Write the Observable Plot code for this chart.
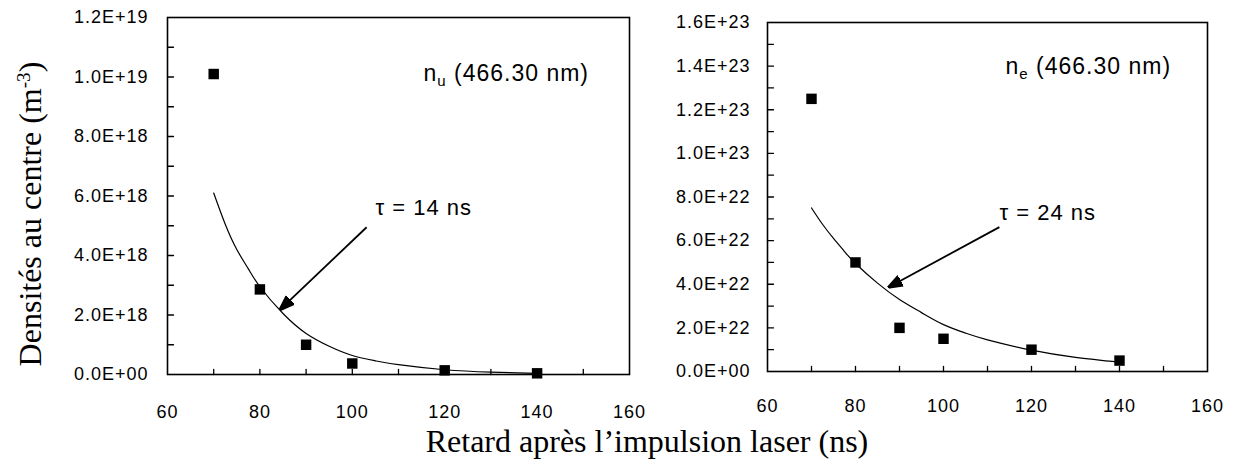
<!DOCTYPE html>
<html>
<head>
<meta charset="utf-8">
<script src="https://cdn.jsdelivr.net/npm/d3@7"></script>
<script src="https://cdn.jsdelivr.net/npm/@observablehq/plot@0.6"></script>
<style>
  html, body { margin: 0; padding: 0; background: #fff; }
  #wrap { position: relative; width: 1234px; height: 459px; background: #fff; overflow: hidden; }
  #left { position: absolute; left: 0; top: 0; }
  #right { position: absolute; left: 640px; top: 0; }
  #wrap svg text { letter-spacing: 1px; }
  .title { position: absolute; font-family: "Liberation Serif", "Times New Roman", serif; font-size: 32px; line-height: 32px; height: 32px; white-space: nowrap; text-align: center; color: #000; }
  #ytitle { width: 400px; left: -169.8px; top: 198px; transform: rotate(-90deg); }
  #xtitle { width: 600px; left: 347px; top: 425px; }
  .sup { position: relative; top: -0.55em; font-size: 0.6em; }
</style>
</head>
<body>
<div id="wrap">
  <div id="left"></div>
  <div id="right"></div>
  <div id="ytitle" class="title">Densités au centre (m<span class="sup">-3</span>)</div>
  <div id="xtitle" class="title">Retard après l’impulsion laser (ns)</div>
</div>
<script>
// ---------- data ----------
const times = [70, 80, 90, 100, 120, 140];
const nuValues = [1.01e19, 2.86e18, 1.0e18, 0.37e18, 0.14e18, 0.04e18];
const neValues = [1.25e23, 5.0e22, 2.0e22, 1.5e22, 1.0e22, 0.5e22];

const fitTimes = [70, 72.5, 75, 77.5, 80, 85, 90, 95, 100, 105, 110, 120, 130, 140];
const nuFit = [6.1e18, 5.05e18, 4.2e18, 3.55e18, 2.95e18, 2.05e18, 1.38e18, 0.95e18, 0.64e18, 0.46e18, 0.33e18, 0.16e18, 0.08e18, 0.04e18];
const neFit = [7.5e22, 6.75e22, 6.1e22, 5.5e22, 4.95e22, 4.05e22, 3.3e22, 2.7e22, 2.15e22, 1.76e22, 1.45e22, 0.98e22, 0.65e22, 0.43e22];

const xDomain = [60, 160];
const xTickLabels = [60, 80, 100, 120, 140, 160];
const xMinorTicks = [70, 80, 90, 100, 110, 120, 130, 140, 150];
const nuTickLabels = [0, 2e18, 4e18, 6e18, 8e18, 1.0e19, 1.2e19];
const nuMinorTicks = [1e18, 2e18, 3e18, 4e18, 5e18, 6e18, 7e18, 8e18, 9e18, 1.0e19, 1.1e19];
const neTickLabels = [0, 2e22, 4e22, 6e22, 8e22, 1.0e23, 1.2e23, 1.4e23, 1.6e23];
const neMinorTicks = [1e22, 2e22, 3e22, 4e22, 5e22, 6e22, 7e22, 8e22, 9e22, 1.0e23, 1.1e23, 1.2e23, 1.3e23, 1.4e23, 1.5e23];

const nuLabel = {text: "n_u (466.30 nm)", x: 115.4, y: 10.1e18};
const neLabel = {text: "n_e (466.30 nm)", x: 114.1, y: 13.96e22};
const nuTau = {text: "τ = 14 ns", x: 105.0, y: 5.61e18};
const neTau = {text: "τ = 24 ns", x: 112.7, y: 7.25e22};
const nuArrow = {x1: 103.1, y1: 4.95e18, x2: 84.3, y2: 2.17e18};
const neArrow = {x1: 112.7, y1: 6.62e22, x2: 87.4, y2: 3.85e22};

// ---------- helpers ----------
const sci = d => {
  if (d === 0) return "0.0E+00";
  const e = Math.floor(Math.log10(d) + 1e-9);
  const m = d / Math.pow(10, e);
  return `${m.toFixed(1)}E+${String(e).padStart(2, "0")}`;
};

const tickShape = {draw(context, l) { context.moveTo(0, 0); context.lineTo(0, -l); }};

function tickMarks(data, opts) {
  try {
    return Plot.vector(data, {...opts, shape: tickShape});
  } catch (e) {
    return Plot.vector(data, {...opts, shape: "arrow"});
  }
}

function filledArrow(color, context) {
  const ns = "http://www.w3.org/2000/svg";
  const doc = (context && context.document) || document;
  const m = doc.createElementNS(ns, "marker");
  m.setAttribute("viewBox", "-10 -5 10 10");
  m.setAttribute("markerWidth", "8");
  m.setAttribute("markerHeight", "8");
  m.setAttribute("refX", "0");
  m.setAttribute("refY", "0");
  m.setAttribute("orient", "auto");
  const p = doc.createElementNS(ns, "path");
  p.setAttribute("d", "M-10,-3.6L0,0L-10,3.6Z");
  p.setAttribute("fill", color || "black");
  m.appendChild(p);
  return m;
}

function arrowMark(a) {
  try {
    return Plot.link([a], {x1: "x1", y1: "y1", x2: "x2", y2: "y2", stroke: "black", strokeWidth: 1.8, markerEnd: filledArrow});
  } catch (e) {
    return Plot.arrow([a], {x1: "x1", y1: "y1", x2: "x2", y2: "y2", stroke: "black", strokeWidth: 1.8, headLength: 13, headAngle: 40});
  }
}

function fixTexts(svg) {
  const ns = "http://www.w3.org/2000/svg";
  svg.querySelectorAll("text").forEach(t => {
    const s = t.textContent;
    if (s.startsWith("τ")) t.setAttribute("letter-spacing", "2px");
    const m = s.match(/^(.*?)_(\w)(.*)$/);
    if (!m) return;
    t.setAttribute("letter-spacing", "1.5px");
    t.textContent = "";
    const a = document.createElementNS(ns, "tspan"); a.textContent = m[1];
    const b = document.createElementNS(ns, "tspan"); b.textContent = m[2];
    b.setAttribute("font-size", "15"); b.setAttribute("dy", "5");
    const c = document.createElementNS(ns, "tspan"); c.textContent = m[3];
    c.setAttribute("dy", "-5");
    t.append(a, b, c);
  });
}

function panel(o) {
  const pts = o.times.map((t, i) => ({t, v: o.values[i]}));
  const fit = o.fitTimes.map((t, i) => ({t, v: o.fit[i]}));
  const chart = Plot.plot({
    width: o.width, height: 459,
    marginLeft: o.ml, marginRight: o.mr, marginTop: o.mt, marginBottom: o.mb,
    x: {domain: xDomain},
    y: {domain: o.yDomain},
    style: {background: "transparent", color: "black", fontFamily: "'Liberation Sans', Arial, sans-serif", fontSize: "18px", overflow: "visible"},
    marks: [
      Plot.axisX({ticks: xTickLabels, tickSize: 0, tickPadding: o.padX, tickFormat: d => String(d), label: null, fontSize: 18}),
      Plot.axisY({ticks: o.yTicks, tickSize: 0, tickPadding: o.padY, tickFormat: sci, label: null, fontSize: 18}),
      // inward minor ticks
      tickMarks(xMinorTicks, {x: d => d, y: o.yDomain[0], length: 5, rotate: 0, anchor: "start", stroke: "black", strokeWidth: 1.3}),
      tickMarks(o.yMinor, {x: xDomain[0], y: d => d, length: 6, rotate: 90, anchor: "start", stroke: "black", strokeWidth: 1.3}),
      Plot.frame({stroke: "black", strokeWidth: 1.6}),
      Plot.line(fit, {x: "t", y: "v", curve: "natural", stroke: "black", strokeWidth: 1.2}),
      Plot.dot(pts, {x: "t", y: "v", symbol: "square", r: 5.9, fill: "black", stroke: "none"}),
      arrowMark(o.arrow),
      Plot.text([o.label], {x: "x", y: "y", text: "text", textAnchor: "start", fontSize: 23, fill: "black"}),
      Plot.text([o.tau], {x: "x", y: "y", text: "text", textAnchor: "start", fontSize: 22, fill: "black"})
    ]
  });
  fixTexts(chart);
  return chart;
}

document.getElementById("left").appendChild(panel({
  width: 640, ml: 167, mr: 11, mt: 17, mb: 85, padX: 31, padY: 19,
  yDomain: [0, 1.2e19], yTicks: nuTickLabels, yMinor: nuMinorTicks,
  times, values: nuValues, fitTimes, fit: nuFit,
  label: nuLabel, tau: nuTau, arrow: nuArrow
}));

document.getElementById("right").appendChild(panel({
  width: 594, ml: 127, mr: 27, mt: 22, mb: 88, padX: 28, padY: 17,
  yDomain: [0, 1.6e23], yTicks: neTickLabels, yMinor: neMinorTicks,
  times, values: neValues, fitTimes, fit: neFit,
  label: neLabel, tau: neTau, arrow: neArrow
}));
</script>
</body>
</html>
